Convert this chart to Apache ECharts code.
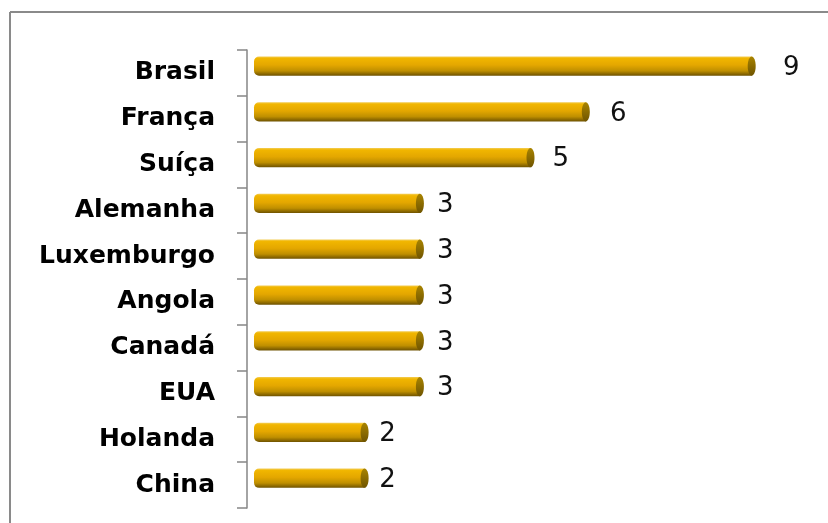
<!DOCTYPE html>
<html>
<head>
<meta charset="utf-8">
<script src="https://cdn.jsdelivr.net/npm/echarts@6/dist/echarts.min.js"></script>
<style>
  html, body { margin: 0; padding: 0; background: #fff; }
  #chart { width: 828px; height: 523px; }
</style>
</head>
<body>
<div id="chart"></div>
<script>
// categorias (de cima para baixo)
const categories = ["Brasil", "França", "Suíça", "Alemanha", "Luxemburgo", "Angola", "Canadá", "EUA", "Holanda", "China"];
// valores
const values = [9, 6, 5, 3, 3, 3, 3, 3, 2, 2];

const chart = echarts.init(document.getElementById("chart"));

// cilindro horizontal com tampa escura na ponta
const renderBar = (params, api) => {
  const v = api.value(0);
  const c = api.value(1);
  const p0 = api.coord([0, c]);
  const p1 = api.coord([v, c]);
  const band = api.size([0, 1])[1];
  const h = band * 0.42;
  const yc = p0[1] - band * 0.15;
  const len = p1[0] - p0[0];
  return {
    type: "group",
    children: [
      {
        type: "rect",
        shape: { x: p0[0], y: yc - h / 2, width: len, height: h, r: [5, 0, 0, 5] },
        style: {
          fill: {
            type: "linear", x: 0, y: 0, x2: 0, y2: 1,
            colorStops: [
              { offset: 0, color: "#f3cd55" },
              { offset: 0.1, color: "#f1b600" },
              { offset: 0.45, color: "#e4a700" },
              { offset: 0.75, color: "#bf8f00" },
              { offset: 1, color: "#6e5200" },
            ],
          },
        },
      },
      {
        type: "ellipse",
        shape: { cx: p1[0], cy: yc, rx: 4, ry: h / 2 },
        style: {
          fill: {
            type: "linear", x: 0, y: 0, x2: 0, y2: 1,
            colorStops: [
              { offset: 0, color: "#a98400" },
              { offset: 1, color: "#6f5400" },
            ],
          },
        },
      },
      {
        // rótulo afastado como na perspectiva 3D do original
        type: "text",
        x: p1[0] + 10 + len * 0.043,
        y: yc + 2,
        style: {
          text: String(v),
          font: "26px 'DejaVu Sans'",
          fill: "#111",
          verticalAlign: "middle",
        },
      },
    ],
  };
};

const option = {
  animation: false,
  grid: {
    left: 254,
    top: 50,
    height: 458,
    right: 21,
  },
  xAxis: {
    type: "value",
    min: 0,
    max: 10,
    show: false,
  },
  yAxis: {
    type: "category",
    inverse: true,
    data: categories,
    offset: 7,
    axisLine: { onZero: false, lineStyle: { color: "#868686", width: 1.5 } },
    axisTick: { show: true, length: 10, lineStyle: { color: "#868686", width: 1.5 } },
    axisLabel: {
      margin: 32,
      color: "#000",
      fontFamily: "DejaVu Sans",
      fontWeight: "bold",
      fontSize: 25,
      padding: [4, 0, 0, 0],
    },
  },
  // moldura do gráfico
  graphic: [
    { type: "line", shape: { x1: 10, y1: 12, x2: 828, y2: 12 }, style: { stroke: "#8a8a8a", lineWidth: 2 } },
    { type: "line", shape: { x1: 10, y1: 12, x2: 10, y2: 523 }, style: { stroke: "#8a8a8a", lineWidth: 2 } },
  ],
  series: [
    {
      type: "custom",
      renderItem: renderBar,
      encode: { x: 0, y: 1 },
      data: values.map((v, i) => [v, i]),
    },
  ],
};
chart.setOption(option);
</script>
</body>
</html>
